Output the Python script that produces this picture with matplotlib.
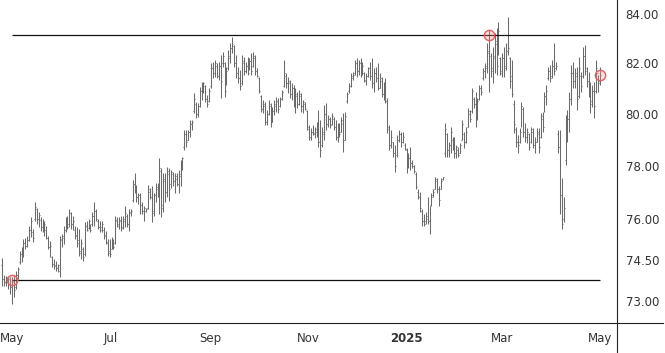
import matplotlib
matplotlib.use('Agg')
import matplotlib.pyplot as plt
import matplotlib.dates as mdates
from matplotlib.lines import Line2D
from matplotlib.ticker import FixedLocator, FuncFormatter, NullLocator
import pandas as pd

highs = [
    74.55,73.94,73.91,73.87,73.87,73.87,73.94,74.09,74.23,74.81,74.95,75.24,75.28,75.35,
    75.72,76.05,75.61,76.61,76.42,76.24,76.05,75.98,
    75.90,75.72,75.35,75.17,74.63,74.52,
    74.45,74.34,75.35,75.43,75.72,76.05,76.09,76.35,76.24,76.10,
    75.72,75.68,75.61,75.24,74.95,
    75.87,75.90,75.98,75.80,76.24,76.61,76.35,75.98,75.90,75.90,75.68,
    75.54,75.24,75.24,75.32,75.24,76.09,76.05,76.05,76.09,76.09,
    76.46,76.16,76.35,76.35,77.47,77.73,77.28,76.98,76.98,76.61,
    76.46,76.42,77.28,77.17,77.21,76.98,77.36,77.36,78.30,77.92,
    77.73,77.73,77.96,77.92,77.85,77.77,77.73,
    77.73,77.85,78.23,78.34,79.38,79.38,79.38,79.76,79.76,80.81,
    80.46,80.42,81.05,81.25,81.25,81.13,80.73,81.01,82.00,82.04,
    82.12,82.00,82.04,82.33,82.45,82.04,81.84,82.53,82.81,83.06,
    82.73,82.33,81.84,81.72,82.33,82.25,82.04,82.25,82.20,82.41,
    82.45,82.33,81.80,81.44,80.73,80.54,80.46,80.15,
    80.54,80.42,80.27,80.54,80.66,80.62,80.66,80.93,82.12,81.60,
    81.44,81.33,81.21,81.13,81.01,80.85,80.93,80.81,80.54,80.46,
    80.15,79.57,79.45,79.57,79.49,79.69,80.15,79.76,79.49,80.34,
    80.42,79.96,79.88,80.03,79.88,79.76,79.65,79.65,79.88,80.03,
    80.07,80.85,81.21,81.60,81.64,82.12,82.20,
    82.12,82.20,82.04,81.64,81.60,81.84,82.04,82.20,81.80,81.84,
    82.00,81.60,81.44,81.25,81.41,80.62,79.57,79.38,78.91,78.80,
    79.18,79.38,79.30,79.30,78.88,78.69,78.49,78.72,78.23,78.04,
    77.77,77.10,77.02,76.35,76.16,76.27,76.80,76.46,76.98,77.10,
    77.58,77.54,77.21,77.54,77.58,
    79.65,79.26,78.91,79.49,79.11,79.11,78.80,78.72,78.88,79.76,
    79.30,79.49,80.23,80.15,81.01,80.66,80.85,80.62,81.13,81.13,
    81.80,82.00,82.81,83.35,82.41,82.65,83.22,83.43,83.67,82.25,
    82.41,82.65,82.81,83.88,82.25,82.12,80.54,79.49,79.18,79.45,
    80.46,80.27,79.65,79.45,79.26,79.49,79.45,79.11,
    79.45,79.45,80.03,80.07,80.85,81.13,81.84,81.92,82.12,82.81,
    82.04,79.38,79.38,77.54,76.80,79.96,80.15,80.85,81.92,82.04,
    81.80,81.84,82.25,81.64,82.65,82.73,81.84,81.64,81.25,81.13,
    81.25,82.12,81.52,81.84,
]

lows = [
    73.55,73.55,73.55,73.44,73.27,72.91,73.16,73.44,73.80,74.34,74.41,74.59,74.88,74.95,
    75.17,75.32,75.13,75.90,75.80,75.68,75.54,75.50,
    75.35,75.24,74.88,74.59,74.23,74.16,
    74.09,74.05,73.87,74.95,75.06,75.50,75.61,75.68,75.61,75.60,
    75.24,74.95,74.63,74.52,74.45,
    74.63,75.54,75.61,75.50,75.72,75.72,75.90,75.61,75.50,75.50,75.24,
    75.06,74.63,74.59,74.88,74.88,75.06,75.68,75.61,75.54,75.61,
    75.68,75.68,75.54,76.09,76.61,76.98,76.61,76.54,76.16,76.16,
    75.90,76.27,76.35,76.72,75.87,76.09,76.61,76.80,76.16,76.05,
    76.24,76.61,76.83,76.65,77.17,77.21,76.98,
    77.21,76.98,77.21,77.85,78.61,78.72,78.99,79.11,79.38,80.03,
    79.84,79.88,80.27,80.54,80.81,80.46,80.27,80.46,81.01,81.41,
    81.44,81.41,81.33,80.62,81.84,80.66,81.13,81.72,82.00,82.41,
    81.84,81.41,81.21,80.93,81.13,81.52,81.60,81.52,81.72,81.52,
    81.84,81.52,81.44,80.81,80.07,80.03,79.57,79.57,
    79.96,79.49,79.69,79.96,80.07,80.03,80.27,80.54,81.05,81.01,
    80.81,80.62,80.54,80.27,80.03,80.23,80.34,80.07,80.03,80.15,
    79.38,78.99,78.99,79.18,79.07,79.11,78.72,78.34,78.72,78.99,
    79.38,79.49,79.45,79.57,79.38,78.99,78.91,79.11,79.30,78.53,
    78.99,80.42,80.81,81.05,81.33,81.52,81.44,
    81.52,81.44,81.52,81.25,81.13,81.44,81.33,81.01,80.85,81.25,
    80.93,81.01,80.66,80.54,80.42,79.26,78.61,78.69,78.34,77.77,
    78.34,78.91,78.72,78.88,78.61,77.73,77.92,77.85,77.92,77.73,
    77.10,76.72,76.27,75.72,75.72,75.80,75.80,75.43,76.46,76.83,
    77.10,76.98,76.46,77.10,77.47,
    78.34,78.34,78.34,78.49,78.61,78.30,78.30,78.34,78.49,78.99,
    78.69,78.88,79.49,79.69,80.03,80.23,79.49,79.76,80.54,80.73,
    81.33,81.41,81.60,80.85,81.44,81.21,81.60,81.52,82.33,81.52,
    81.44,81.44,81.72,82.33,81.01,80.66,79.26,78.72,78.49,78.88,
    79.49,79.11,78.91,78.88,78.61,78.88,78.69,78.49,
    78.91,78.49,79.07,79.30,80.07,80.34,81.33,81.25,81.41,81.52,
    81.72,78.49,76.16,75.61,75.87,78.04,78.91,79.30,80.34,81.01,
    81.01,80.15,80.62,80.85,81.41,81.52,81.05,80.66,80.03,80.27,
    79.84,80.81,80.85,81.13,
]

opens = [
    74.3,73.8,73.7,73.85,73.8,73.5,73.7,73.5,73.95,74.4,74.7,74.65,75.1,75.0,
    75.2,75.6,75.5,76.0,76.35,76.0,75.95,75.7,
    75.7,75.6,75.3,74.95,74.6,74.35,
    74.3,74.2,74.1,75.2,75.3,75.6,75.9,75.8,76.2,75.8,
    75.6,75.4,75.2,74.8,74.9,
    74.7,75.75,75.65,75.75,75.8,76.1,76.3,75.9,75.7,75.7,75.6,
    75.4,75.1,74.8,74.9,75.1,75.1,75.9,75.8,75.9,75.7,
    75.9,76.1,75.8,76.2,76.7,77.3,77.2,76.8,76.9,76.5,
    76.3,76.3,76.4,77.0,76.8,76.3,76.9,77.1,77.2,77.8,
    76.5,77.4,77.0,77.7,77.3,77.7,77.4,
    77.5,77.3,77.6,78.0,78.7,79.2,79.0,79.3,79.6,80.1,
    80.4,80.0,80.3,80.9,81.0,81.1,80.6,80.5,81.1,81.8,
    81.6,81.9,81.5,81.9,82.0,82.0,81.2,81.8,82.2,82.6,
    82.7,82.0,81.6,81.4,81.2,82.0,81.7,81.9,81.7,82.1,
    81.9,82.2,81.7,81.4,80.7,80.2,80.3,79.7,
    80.0,80.3,79.7,80.1,80.3,80.5,80.3,80.6,81.1,81.5,
    81.2,81.2,80.8,81.0,80.5,80.7,80.4,80.7,80.3,80.4,
    80.1,79.4,79.1,79.3,79.2,79.3,79.5,78.9,78.8,79.2,
    80.0,79.6,79.8,79.6,79.8,79.5,79.1,79.4,79.3,79.6,
    79.0,80.5,80.9,81.1,81.4,81.6,82.0,
    81.7,82.0,81.6,81.6,81.3,81.5,81.8,81.5,81.2,81.6,
    81.4,81.0,81.3,80.8,81.0,80.5,79.4,78.8,78.9,78.5,
    78.4,79.0,79.2,78.9,78.8,78.6,78.0,78.3,78.1,78.0,
    77.7,77.0,76.8,76.3,75.9,75.9,76.0,75.9,76.5,76.9,
    77.1,77.4,77.1,77.1,77.5,
    78.5,79.2,78.6,78.8,79.0,78.7,78.5,78.6,78.5,79.0,
    79.2,78.9,79.5,80.0,80.1,80.6,80.4,79.9,80.6,81.0,
    81.4,81.7,81.8,82.4,82.3,81.8,82.2,82.8,82.4,82.2,
    81.6,82.2,81.9,82.5,82.2,81.5,80.4,79.4,78.9,78.9,
    79.6,80.2,79.3,79.1,79.2,78.9,79.3,78.8,
    78.9,79.2,79.1,79.8,80.1,80.7,81.4,81.7,81.5,81.9,
    81.8,79.2,78.7,76.9,76.0,78.2,79.5,79.8,80.6,81.6,
    81.3,81.5,80.7,81.5,81.5,82.3,81.7,81.3,80.9,80.5,
    80.9,80.9,81.6,81.3,
]

closes = [
    73.8,73.7,73.85,73.6,73.5,73.75,73.4,73.95,74.15,74.7,74.5,75.1,75.0,75.2,
    75.6,75.9,75.3,76.45,76.0,76.15,75.7,75.8,
    75.8,75.3,74.95,75.0,74.35,74.25,
    74.2,74.3,75.25,75.35,75.6,75.9,75.7,76.2,75.8,75.9,
    75.35,75.1,74.75,75.1,74.6,
    75.75,75.6,75.9,75.6,76.1,76.3,76.0,75.7,75.6,75.8,75.35,
    75.15,74.75,74.7,75.2,74.95,75.95,75.75,75.95,75.65,76.0,
    76.2,75.8,76.25,76.3,77.3,77.2,76.8,76.9,76.5,76.3,
    76.4,76.38,77.1,76.8,76.2,76.9,77.2,77.25,77.9,76.4,
    77.5,77.0,77.8,77.1,77.75,77.4,77.6,
    77.3,77.7,78.1,78.3,79.2,78.9,79.3,79.6,79.7,80.6,
    80.0,80.3,80.9,81.0,81.2,80.6,80.4,80.9,81.8,81.6,
    82.0,81.5,81.9,81.3,82.3,80.9,81.7,82.3,82.6,82.8,
    82.0,81.6,81.4,81.1,82.1,81.7,81.9,81.6,82.1,81.7,
    82.3,81.7,81.5,80.9,80.2,80.4,79.7,80.0,
    80.4,79.6,80.1,80.4,80.5,80.2,80.6,80.85,81.6,81.2,
    81.3,80.8,81.0,80.5,80.8,80.4,80.8,80.3,80.45,80.2,
    79.5,79.1,79.3,79.25,79.4,79.6,78.9,78.6,79.3,80.0,
    79.6,79.8,79.55,79.9,79.5,79.1,79.4,79.2,79.75,79.0,
    79.9,80.8,81.1,81.5,81.55,82.0,81.7,
    82.0,81.6,81.9,81.35,81.5,81.8,81.5,81.2,81.6,81.4,
    81.0,81.4,80.8,81.0,80.5,79.5,78.8,79.1,78.5,78.0,
    79.0,79.2,78.9,79.1,78.65,78.0,78.3,78.1,78.0,77.8,
    77.2,76.8,76.4,75.9,75.8,76.1,75.9,76.2,76.8,77.0,
    77.5,77.1,76.7,77.4,77.55,
    79.4,78.6,78.8,79.3,78.7,78.5,78.7,78.4,78.8,79.6,
    78.9,79.3,80.1,79.8,80.9,80.4,79.8,80.5,81.0,80.85,
    81.7,81.9,82.5,83.14,81.7,82.3,82.9,81.9,83.3,81.7,
    82.2,81.8,82.5,82.6,81.3,80.8,79.6,78.9,78.8,79.3,
    80.3,79.3,79.1,79.3,78.7,79.4,78.8,78.9,
    79.3,78.7,79.9,79.5,80.7,80.9,81.7,81.4,81.9,81.7,
    81.9,78.7,76.9,75.8,76.4,79.6,79.8,80.6,81.6,81.3,
    81.6,80.6,81.8,81.1,82.3,81.8,81.3,80.9,80.4,80.9,
    80.3,81.8,81.2,81.55,
]

start_date = '2024-04-25'
end_date = '2025-05-01'
marker_idx = [5, 254, 312]
marker_vals = [73.75, 83.14, 81.55]
level_vals = [83.14, 73.75]
y_ticks = [73.0, 74.5, 76.0, 78.0, 80.0, 82.0, 84.0]
x_tick_dates = ['2024-05-01', '2024-07-01', '2024-09-01', '2024-11-01',
                '2025-01-01', '2025-03-01', '2025-05-01']
x_tick_labels = ['May', 'Jul', 'Sep', 'Nov', '2025', 'Mar', 'May']

W, H = 665, 353
fig = plt.figure(figsize=(W / 100, H / 100), dpi=100)
ax_left, ax_right, ax_bottom = 0, 616, 322
ax = fig.add_axes([ax_left / W, (H - ax_bottom) / H, (ax_right - ax_left) / W, ax_bottom / H])

dates = pd.date_range(start_date, end_date, periods=len(closes))
x = mdates.date2num(dates)
w = 0.5 * (x[1] - x[0])

bar_color = '#6a6a6a'
ax.vlines(x, lows, highs, color=bar_color, lw=0.75)
ax.hlines(opens, x - w, x, color=bar_color, lw=0.75)
ax.hlines(closes, x, x + w, color=bar_color, lw=0.75)

ax.hlines(level_vals, x[marker_idx[0]], x[-1], color='#111111', lw=0.9, zorder=3)

ax.scatter(x[marker_idx], marker_vals, s=55, facecolor=(1.0, 0.55, 0.55, 0.3),
           edgecolor='#e06060', lw=1.0, zorder=5)

ax.set_yscale('log')
ax.set_ylim(72.26, 84.58)
ax.yaxis.set_major_locator(FixedLocator(y_ticks))
ax.yaxis.set_major_formatter(FuncFormatter(lambda v, p: f'{v:.2f}'))
ax.yaxis.set_minor_locator(NullLocator())
ax.yaxis.tick_right()

ax.set_xlim(mdates.date2num(pd.Timestamp('2024-04-23 13:00')),
            mdates.date2num(pd.Timestamp('2025-05-10 22:00')))
ax.set_xticks(mdates.date2num(pd.to_datetime(x_tick_dates)))
ax.set_xticklabels(x_tick_labels)
ax.xaxis.set_minor_locator(NullLocator())
for lbl in ax.get_xticklabels():
    if lbl.get_text() == '2025':
        lbl.set_fontweight('bold')

ax.tick_params(axis='both', length=0, labelsize=8.5, labelcolor='#333333')
ax.tick_params(axis='y', pad=7)
ax.tick_params(axis='x', pad=7)

for s in ax.spines.values():
    s.set_visible(False)

fig.add_artist(Line2D([616.5 / W, 616.5 / W], [0, 1], color='#222222', lw=0.8))
fig.add_artist(Line2D([0, 663 / W], [(H - ax_bottom - 0.5) / H] * 2, color='#222222', lw=0.8))

fig.savefig('out.png', dpi=100)
